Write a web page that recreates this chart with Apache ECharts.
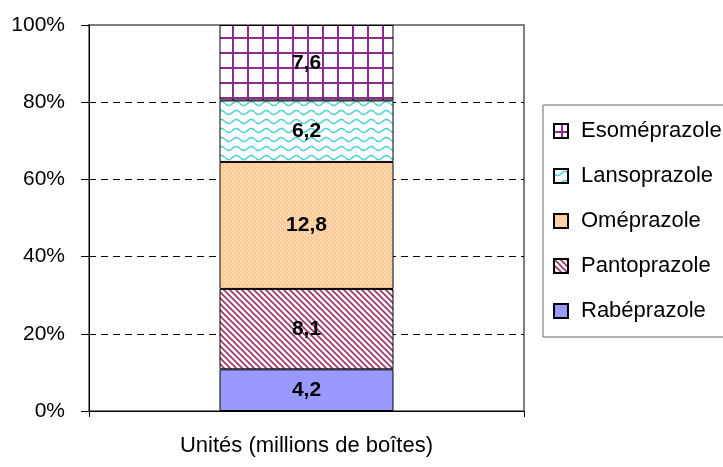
<!DOCTYPE html>
<html>
<head>
<meta charset="utf-8">
<script src="https://cdn.jsdelivr.net/npm/echarts@6/dist/echarts.min.js"></script>
<style>
  html, body { margin: 0; padding: 0; background: #fff; }
  #chart { width: 723px; height: 467px; }
</style>
</head>
<body>
<div id="chart"></div>
<script>
// données (millions de boîtes)
var categories = ['Unités (millions de boîtes)'];
var seriesNames = ['Rabéprazole', 'Pantoprazole', 'Oméprazole', 'Lansoprazole', 'Esoméprazole'];
var seriesValues = [4.2, 8.1, 12.8, 6.2, 7.6];
var yTicks = [0, 20, 40, 60, 80, 100];

/************ motifs de remplissage ************/
function makeTile(w, h, draw) {
    var c = document.createElement('canvas');
    c.width = w;
    c.height = h;
    draw(c.getContext('2d'), w, h);
    return { image: c, repeat: 'repeat' };
}

var fillRabe = '#9999FF';

var fillPanto = makeTile(6, 6, function (ctx, w, h) {
    ctx.fillStyle = '#fff';
    ctx.fillRect(0, 0, w, h);
    ctx.strokeStyle = '#993366';
    ctx.lineWidth = 1.6;
    ctx.beginPath();
    ctx.moveTo(-1, -1); ctx.lineTo(w + 1, h + 1);
    ctx.moveTo(-1, h - 1); ctx.lineTo(1, h + 1);
    ctx.moveTo(w - 1, -1); ctx.lineTo(w + 1, 1);
    ctx.stroke();
});

var fillOme = makeTile(4, 4, function (ctx, w, h) {
    ctx.fillStyle = '#FFCC99';
    ctx.fillRect(0, 0, w, h);
    ctx.fillStyle = 'rgba(255,255,255,0.8)';
    ctx.fillRect(0, 0, 1, 1);
    ctx.fillRect(2, 2, 1, 1);
});

var fillLanso = makeTile(15, 9, function (ctx, w, h) {
    ctx.fillStyle = '#fff';
    ctx.fillRect(0, 0, w, h);
    ctx.strokeStyle = '#4DD2D2';
    ctx.lineWidth = 1.5;
    ctx.beginPath();
    for (var x = 0; x <= w; x++) {
        var y = 4.5 + 2 * Math.sin(x / w * Math.PI * 2);
        if (x === 0) ctx.moveTo(x, y); else ctx.lineTo(x, y);
    }
    ctx.stroke();
});

var fillEso = makeTile(15, 15, function (ctx, w, h) {
    ctx.fillStyle = '#fff';
    ctx.fillRect(0, 0, w, h);
    ctx.fillStyle = '#8F2A8F';
    ctx.fillRect(7, 0, 2, h);
    ctx.fillRect(0, 7, w, 2);
});

var fills = [fillRabe, fillPanto, fillOme, fillLanso, fillEso];

var total = seriesValues.reduce(function (a, b) { return a + b; }, 0);

var series = seriesNames.map(function (name, i) {
    return {
        name: name,
        type: 'bar',
        stack: 'total',
        barWidth: 174,
        itemStyle: {
            color: fills[i],
            borderColor: '#000',
            borderWidth: 1
        },
        label: {
            show: true,
            position: 'inside',
            color: '#000',
            fontFamily: 'Liberation Sans',
            fontWeight: 'bold',
            fontSize: 21,
            formatter: function () {
                return String(seriesValues[i]).replace('.', ',');
            }
        },
        data: [seriesValues[i] / total * 100]
    };
});

var chartDom = document.getElementById('chart');
var myChart = echarts.init(chartDom, null, { renderer: 'canvas' });

var option = {
    animation: false,
    backgroundColor: '#fff',
    textStyle: { fontFamily: 'Liberation Sans' },
    grid: {
        left: 89,
        right: 199,
        top: 25,
        bottom: 56,
        show: true,
        borderColor: '#808080',
        borderWidth: 2,
        backgroundColor: 'transparent'
    },
    legend: {
        orient: 'vertical',
        left: 543,
        top: 105,
        padding: [15, 20, 15, 10],
        borderColor: '#666',
        borderWidth: 1,
        icon: 'rect',
        itemWidth: 14,
        itemHeight: 14,
        itemGap: 23,
        data: seriesNames.slice().reverse(),
        textStyle: {
            color: '#000',
            fontSize: 22,
            lineHeight: 22,
            padding: [0, 0, 0, 8]
        }
    },
    xAxis: {
        type: 'category',
        data: categories,
        axisLine: { lineStyle: { color: '#000', width: 1 } },
        axisTick: { show: true, length: 6, lineStyle: { color: '#000' } },
        axisLabel: { color: '#000', fontSize: 22, margin: 24 }
    },
    yAxis: {
        type: 'value',
        min: 0,
        max: 100,
        interval: 20,
        axisLine: { show: true, lineStyle: { color: '#000', width: 1 } },
        axisTick: { show: true, length: 8, lineStyle: { color: '#000' } },
        axisLabel: {
            color: '#000',
            fontSize: 21,
            margin: 24,
            formatter: function (v) { return yTicks.indexOf(v) >= 0 ? v + '%' : ''; }
        },
        splitLine: {
            show: true,
            lineStyle: {
                color: ['transparent', '#000', '#000', '#000', '#000', 'transparent'],
                type: [7, 5],
                width: 1
            }
        }
    },
    series: series
};

myChart.setOption(option);
</script>
</body>
</html>
